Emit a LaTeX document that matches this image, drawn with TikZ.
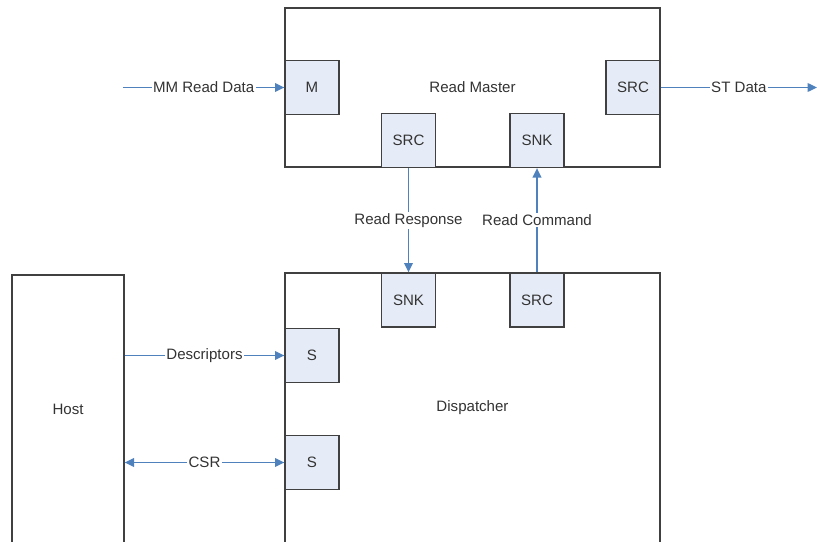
\documentclass[tikz,border=0pt]{standalone}
\usepackage{fontspec}
\setmainfont{Liberation Sans}
\usetikzlibrary{arrows.meta}
\definecolor{portfill}{HTML}{E6ECF7}
\definecolor{edgegray}{HTML}{404040}
\definecolor{linkblue}{HTML}{4F81BD}
\definecolor{labelgray}{HTML}{333333}
\tikzset{
  every node/.style={font=\fontsize{11.3}{13}\selectfont, text=labelgray},
  block/.style={draw=edgegray, line width=1pt, fill=white, inner sep=0pt},
  port/.style={draw=edgegray, line width=1pt, fill=portfill, minimum size=40.5pt, inner sep=0pt},
  link/.style={draw=linkblue, line width=1pt, -{Triangle[length=7pt,width=6.5pt]}},
  tag/.style={fill=white, inner sep=1pt}
}
\begin{document}
\begin{tikzpicture}[x=0.75pt,y=-0.75pt]
  \useasboundingbox (0,0) rectangle (817,542);
  \clip (0,0) rectangle (817,542);
  % blocks
  \node[block, minimum width=281.25pt, minimum height=119.25pt] (master) at (472.5,87.5) {Read Master};
  \node[block, minimum width=281.25pt, minimum height=202.5pt] (disp) at (472.5,408) {Dispatcher};
  \node[block, minimum width=84pt, minimum height=201pt] (host) at (68,409) {Host};
  % ports of the read master
  \node[port] (mmm) at (312,87.5) {M};
  \node[port] (srcst) at (633,87.5) {SRC};
  \node[port] (srcrm) at (408.5,140.5) {SRC};
  \node[port] (snkrm) at (537,140.5) {SNK};
  % ports of the dispatcher
  \node[port] (snkd) at (408.5,300) {SNK};
  \node[port] (srcd) at (537,300) {SRC};
  \node[port] (sdesc) at (312,355.5) {S};
  \node[port] (scsr) at (312,462.5) {S};
  % free ends
  \coordinate (mmin) at (123,87.5);
  \coordinate (stout) at (817,87.5);
  % connectors
  \draw[link] (mmin) -- node[tag] {MM Read Data} (mmm.west);
  \draw[link] (srcst.east) -- node[tag] {ST Data} (stout);
  \draw[link] (srcrm.south) -- node[tag] {Read Response} (snkd.north);
  \draw[link] (srcd.north) -- node[tag] {Read Command} (snkrm.south);
  \draw[link] (host.east |- sdesc) -- node[tag] {Descriptors} (sdesc.west);
  \draw[link, {Triangle[length=7pt,width=6.5pt]}-{Triangle[length=7pt,width=6.5pt]}] (host.east |- scsr) -- node[tag] {CSR} (scsr.west);
\end{tikzpicture}
\end{document}
